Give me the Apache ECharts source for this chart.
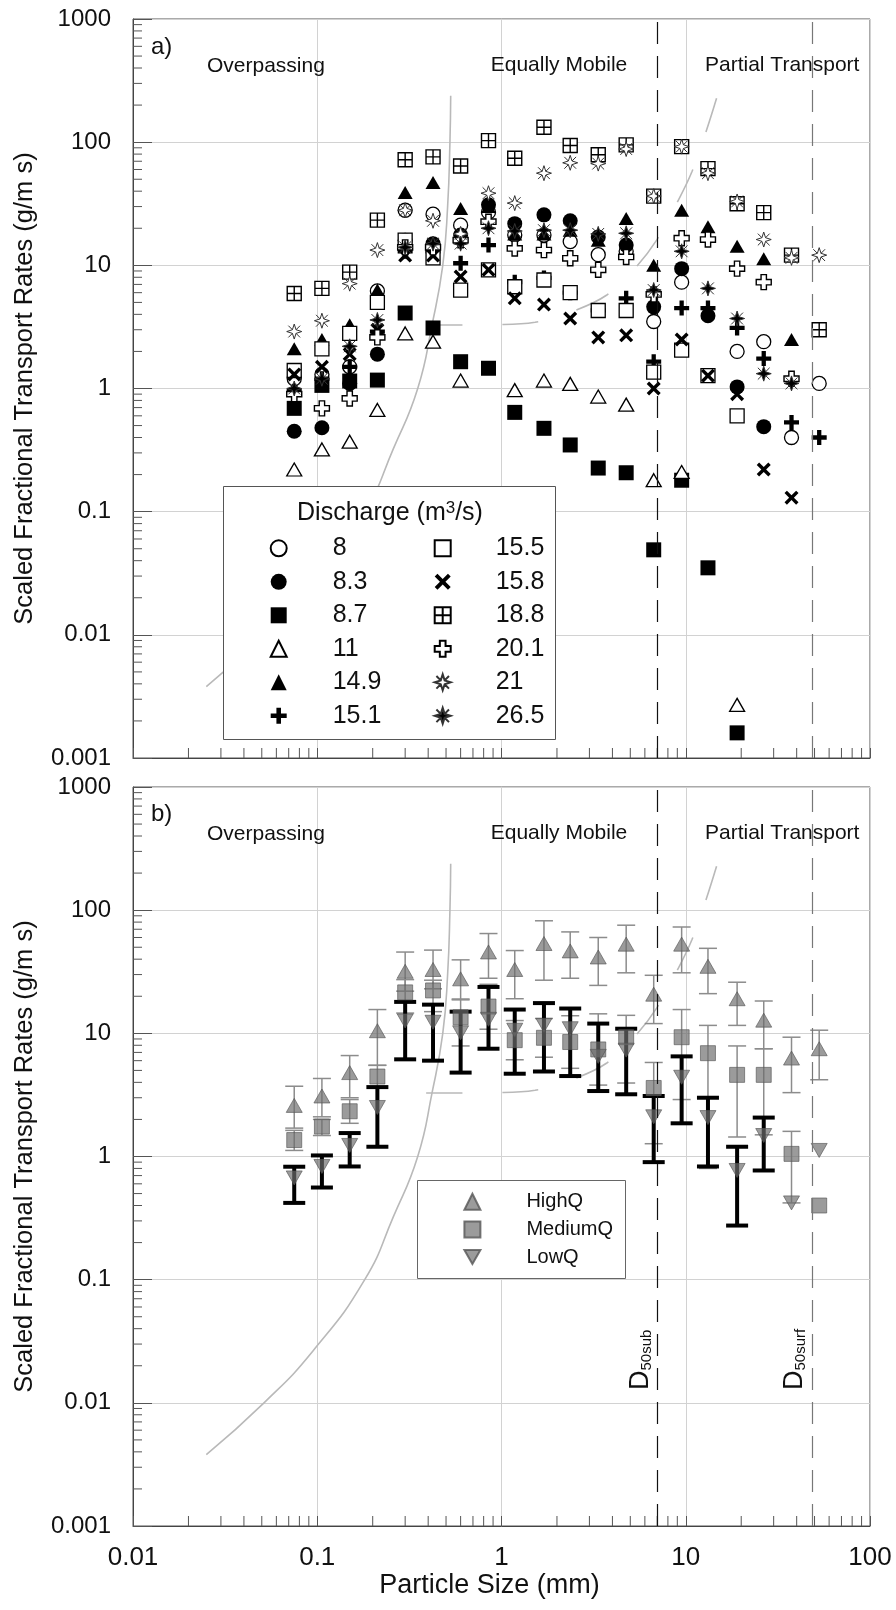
<!DOCTYPE html>
<html><head><meta charset="utf-8">
<script src="https://cdn.jsdelivr.net/npm/echarts@6/dist/echarts.min.js"></script>
<style>html,body{margin:0;padding:0;background:#fff}#c{width:896px;height:1610px}</style>
</head><body><div id="c"></div>
<script>
// ---------- data ----------
const sizes = [0.075, 0.106, 0.15, 0.212, 0.3, 0.425, 0.6, 0.85, 1.18, 1.7, 2.36, 3.35, 4.75, 6.7, 9.5, 13.2, 19, 26.5, 37.5, 53];

// panel a) discharge series (m3/s)
const q8   = [1.2, 1.3, 1.5, 6.2, 28, 26, 21.2, 27, 17.6, 17.6, 15.6, 12.2, 13, 3.5, 7.3, null, 2.0, 2.4, 0.4, 1.1];
const q83  = [0.45, 0.48, 1.1, 1.9, 16, 15, 17.6, 31, 21.8, 25.7, 23, 17, 14.6, 4.6, 9.4, 3.9, 1.03, 0.49, null, null];
const q87  = [0.69, 1.06, 1.15, 1.17, 4.1, 3.1, 1.65, 1.46, 0.64, 0.475, 0.348, 0.226, 0.207, 0.049, 0.18, 0.035, 0.0016, null, null, null];
const q11  = [0.22, 0.32, 0.37, 0.67, 2.8, 2.4, 1.16, null, 0.97, 1.16, 1.09, 0.86, 0.74, 0.18, 0.21, null, 0.0027, null, null, null];
const q149 = [2.1, 2.5, 3.3, 6.3, 39, 47, 29, 30, 18, 18, 19.3, 16, 24, 10, 28, 20.6, 14.3, 11.3, 2.5, null];
const q151 = [0.95, 1.2, 1.5, 2.9, 13, 13, 10.4, 14.6, 7.3, 7.9, 6, 4.3, 5.4, 1.65, 4.5, 4.5, 3.1, 1.75, 0.53, 0.40];
const q155 = [1.4, 2.1, 2.8, 5.0, 16, 11.5, 6.3, 9.2, 6.7, 7.6, 6, 4.3, 4.3, 1.36, 2.05, 1.27, 0.6, null, null, null];
const q158 = [1.3, 1.5, 1.9, 3.0, 12, 12, 8.1, 9.2, 5.4, 4.8, 3.7, 2.6, 2.7, 1.0, 2.5, 1.27, 0.9, 0.22, 0.13, null];
const q188 = [5.9, 6.5, 8.8, 23.3, 72, 76, 64, 103, 74, 132, 94, 79, 95, 36.5, 92, 61, 31.6, 26.8, 12.1, 3.0];
const q201 = [0.9, 0.69, 0.83, 2.6, 14, 14, 16, 22.6, 13.7, 13.3, 11.4, 9.2, 11.7, 5.8, 16.6, 16.2, 9.4, 7.3, 1.2, null];
const q21  = [2.9, 3.55, 7.1, 13.3, 28, 23, 18, 38.5, 32, 56, 68, 67, 88, 36.5, 92, 56, 33, 16.2, 11.5, 12.1];
const q265 = [1.0, 1.2, 2.2, 3.6, 14, 15, 15, 20, 19, 19.3, 19.3, 18, 18.2, 6.3, 13, 6.5, 3.7, 1.32, 1.1, null];

// panel b) grouped discharges with ranges
const highQ   = [2.6, 3.1, 4.8, 10.5, 31.9, 33, 27.7, 45.8, 33, 53.6, 46.7, 41.7, 53, 20.8, 53, 35, 19.1, 12.8, 6.3, 7.5];
const highQLo = [1.7, 2.1, 3.0, 5.5, 22, 23, 19, 28, 19.1, 27, 28, 24.5, 31, 12, 31, 21, 11.6, 7.5, 3.3, 4.2];
const highQHi = [3.72, 4.3, 6.6, 15.6, 45.7, 47.4, 39.5, 64.6, 47, 82, 66.6, 60, 75.5, 29.6, 73, 49, 26, 18.3, 9.3, 10.6];
const medQ    = [1.36, 1.75, 2.33, 4.46, 21.5, 22.3, 13.5, 16.5, 8.8, 9.2, 8.5, 7.4, 9.3, 3.6, 9.3, 6.9, 4.6, 4.6, 1.05, 0.4];
const medQLo  = [1.12, 1.48, 1.86, 3.6, 14.6, 15, 7.9, 10.8, 6.1, 6.4, 5.2, 3.8, 3.95, 1.27, 2.9, 0.8, 1.44, 1.5, 0.42, null];
const medQHi  = [1.63, 2.0, 2.9, 5.5, 27.3, 27, 18.7, 25, 12.7, 13.2, 13.9, 14.4, 14, 5.8, 15.6, 11.6, 7.9, 7.5, 1.6, null];
const lowQ    = [0.67, 0.83, 1.23, 2.5, 12.6, 12.3, 10.1, 13, 10.6, 11.6, 10.9, 6.5, 7.3, 2.1, 4.4, 2.07, 0.77, 1.48, 0.42, 1.12];
const lowQLo  = [0.42, 0.56, 0.83, 1.2, 6.15, 6.0, 4.8, 7.5, 4.7, 4.9, 4.5, 3.4, 3.2, 0.9, 1.86, 0.83, 0.275, 0.77, null, null];
const lowQHi  = [0.826, 1.02, 1.55, 3.66, 18, 17.1, 15, 23.8, 15.6, 17.6, 15.9, 12, 10.9, 3.1, 6.5, 3.0, 1.2, 2.07, null, null];

// reference curves
const curveAx = [0.025, 0.0514, 0.095, 0.181, 0.259, 0.351, 0.42, 0.48, 0.51, 0.525, 0.53];
const curveAy = [0.0038, 0.01, 0.0265, 0.1, 0.325, 1, 3.3, 10, 30, 100, 238];
const curveBx = [0.39, 0.57, 0.94, 1.52, 2.4, 3.73, 5.3, 6.95, 8.93, 10.8, 12.8, 14.7];
const curveBy = [3.28, 3.28, 3.3, 3.45, 4.2, 5.74, 9.46, 16, 31.9, 57.5, 118, 227];

const d50sub = 7;
const d50surf = 48.5;

const yTickLabels = ['0.001', '0.01', '0.1', '1', '10', '100', '1000'];
const xTickLabels = ['0.01', '0.1', '1', '10', '100'];

// ---------- helpers ----------
const FONT = '"Liberation Sans", Arial, sans-serif';
function pairs(xs, ys) { const o = []; xs.forEach((x, i) => { if (ys[i] != null) o.push([x, ys[i]]); }); return o; }
function triples(xs, lo, hi) { const o = []; xs.forEach((x, i) => { if (lo[i] != null && hi[i] != null) o.push([x, lo[i], hi[i]]); }); return o; }
const yMinor = []; for (let e = -3; e < 3; e++) for (let m = 2; m <= 9; m++) yMinor.push(m * Math.pow(10, e));
const xMinor = []; for (let e = -2; e < 2; e++) for (let m = 2; m <= 9; m++) xMinor.push(m * Math.pow(10, e));

const SYM_PLUS = 'path://M5,0H9V5H14V9H9V14H5V9H0V5H5Z';
const SYM_X = 'path://M0,2.4L2.4,0L7,4.6L11.6,0L14,2.4L9.4,7L14,11.6L11.6,14L7,9.4L2.4,14L0,11.6L4.6,7Z';
const SYM_BOX = 'path://M0,0H14V14H0Z M7,0V14 M0,7H14';
const SYM_HPLUS = 'path://M4.5,0H9.5V4.5H14V9.5H9.5V14H4.5V9.5H0V4.5H4.5Z';
const SYM_STAR = 'path://M7,0L8.7,5.3L14,7L8.7,8.7L7,14L5.3,8.7L0,7L5.3,5.3Z M1.5,1.5L5.3,5.3 M12.5,1.5L8.7,5.3 M1.5,12.5L5.3,8.7 M12.5,12.5L8.7,8.7';
const SYM_DOWN = 'path://M0,0L16,0L8,14Z';

const topDefs = [
  { name: '8', d: q8, s: 'circle', z: 14, f: '#fff', b: '#000', w: 1.3 },
  { name: '8.3', d: q83, s: 'circle', z: 15, f: '#000', b: '#000', w: 0 },
  { name: '8.7', d: q87, s: 'rect', z: 15, f: '#000', b: '#000', w: 0 },
  { name: '11', d: q11, s: 'triangle', z: [15, 13], f: '#fff', b: '#000', w: 1.3 },
  { name: '14.9', d: q149, s: 'triangle', z: [15, 13], f: '#000', b: '#000', w: 0 },
  { name: '15.1', d: q151, s: SYM_PLUS, z: 15, f: '#000', b: '#000', w: 0 },
  { name: '15.5', d: q155, s: 'rect', z: 14, f: '#fff', b: '#000', w: 1.3 },
  { name: '15.8', d: q158, s: SYM_X, z: 14, f: '#000', b: '#000', w: 0 },
  { name: '18.8', d: q188, s: SYM_BOX, z: 14, f: '#fff', b: '#000', w: 1.4 },
  { name: '20.1', d: q201, s: SYM_HPLUS, z: 15, f: '#fff', b: '#000', w: 1.4 },
  { name: '21', d: q21, s: SYM_STAR, z: 15, f: '#fff', b: '#333', w: 1 },
  { name: '26.5', d: q265, s: SYM_STAR, z: 15, f: '#000', b: '#333', w: 1 }
];

const GRID = [
  { left: 133, top: 19, width: 737, height: 739 },
  { left: 133, top: 787, width: 737, height: 739 }
];

function xAxisCfg(i) {
  const c = {
    gridIndex: i, type: 'log', logBase: 10, min: 0.01, max: 100,
    axisLine: { show: true, lineStyle: { color: '#444', width: 1 } },
    axisTick: { show: true, inside: true, length: 10, lineStyle: { color: '#555' } },
    splitLine: { show: true, lineStyle: { color: '#d2d2d2', width: 1 } },
    axisLabel: { show: false }
  };
  if (i === 1) {
    c.axisLabel = { show: true, margin: 19, fontSize: 26, fontFamily: FONT, color: '#111',
      showMinLabel: true, showMaxLabel: true,
      formatter: v => xTickLabels[Math.round(Math.log10(v)) + 2] };
    c.name = 'Particle Size (mm)';
    c.nameLocation = 'middle';
    c.nameGap = 45;
    c.nameTextStyle = { fontSize: 27, fontFamily: FONT, color: '#111', padding: [0, 24, 0, 0] };
  }
  return c;
}
function yAxisCfg(i) {
  return {
    gridIndex: i, type: 'log', logBase: 10, min: 0.001, max: 1000,
    axisLine: { show: true, lineStyle: { color: '#444', width: 1 } },
    axisTick: { show: true, inside: true, length: 19, lineStyle: { color: '#555' } },
    splitLine: { show: true, lineStyle: { color: '#d2d2d2', width: 1 } },
    axisLabel: { margin: 22, fontSize: 24, fontFamily: FONT, color: '#111',
      showMinLabel: true, showMaxLabel: true,
      formatter: v => yTickLabels[Math.round(Math.log10(v)) + 3] },
    name: 'Scaled Fractional Transport Rates (g/m s)',
    nameLocation: 'middle', nameGap: 95,
    nameTextStyle: { fontSize: 25.5, fontFamily: FONT, color: '#111' }
  };
}

function tickSeries(i) {
  return [
    { type: 'custom', xAxisIndex: i, yAxisIndex: i, silent: true, z: 3, clip: false,
      data: yMinor.map(v => [0.01, v]),
      renderItem: (p, api) => { const pt = api.coord([0.01, api.value(1)]);
        return { type: 'line', shape: { x1: pt[0], y1: pt[1], x2: pt[0] + 9, y2: pt[1] }, style: { stroke: '#555', lineWidth: 1 } }; } },
    { type: 'custom', xAxisIndex: i, yAxisIndex: i, silent: true, z: 3, clip: false,
      data: xMinor.map(v => [v, 0.001]),
      renderItem: (p, api) => { const pt = api.coord([api.value(0), 0.001]);
        return { type: 'line', shape: { x1: pt[0], y1: pt[1], x2: pt[0], y2: pt[1] - 10 }, style: { stroke: '#555', lineWidth: 1 } }; } }
  ];
}

function curveSeries(i) {
  return [
    { type: 'line', xAxisIndex: i, yAxisIndex: i, silent: true, z: 1, showSymbol: false, symbol: 'none',
      smooth: 0.5, data: pairs(curveAx, curveAy),
      lineStyle: { color: '#b9b9b9', width: 1.6 },
      markLine: { silent: true, symbol: 'none', label: { show: false }, animation: false,
        data: [
          { xAxis: d50sub, lineStyle: { color: '#111', width: 1.2, type: [22, 12] } },
          { xAxis: d50surf, lineStyle: { color: '#777', width: 1.2, type: [22, 12] } }
        ] } },
    { type: 'line', xAxisIndex: i, yAxisIndex: i, silent: true, z: 1, showSymbol: false, symbol: 'none',
      smooth: 0.4, data: pairs(curveBx, curveBy),
      lineStyle: { color: '#b9b9b9', width: 1.6, type: [36, 40] } }
  ];
}

function errSeries(name, lo, hi, color, lw, cap) {
  return { type: 'custom', name: name, xAxisIndex: 1, yAxisIndex: 1, silent: true, z: 2,
    data: triples(sizes, lo, hi), encode: { x: 0, y: [1, 2] },
    renderItem: (p, api) => {
      const x = api.value(0);
      const a = api.coord([x, api.value(1)]), b = api.coord([x, api.value(2)]);
      const st = { stroke: color, lineWidth: lw };
      return { type: 'group', children: [
        { type: 'line', shape: { x1: a[0], y1: a[1], x2: b[0], y2: b[1] }, style: st },
        { type: 'line', shape: { x1: a[0] - cap, y1: a[1], x2: a[0] + cap, y2: a[1] }, style: st },
        { type: 'line', shape: { x1: b[0] - cap, y1: b[1], x2: b[0] + cap, y2: b[1] }, style: st }
      ] };
    } };
}

const series = [];
series.push(...curveSeries(0), ...curveSeries(1), ...tickSeries(0), ...tickSeries(1));
topDefs.forEach(t => series.push({
  type: 'scatter', name: t.name, xAxisIndex: 0, yAxisIndex: 0, z: 4,
  data: pairs(sizes, t.d), symbol: t.s, symbolSize: t.z,
  itemStyle: { color: t.f, borderColor: t.b, borderWidth: t.w, opacity: 1 }
}));
const gFill = 'rgba(108,108,108,0.85)';
series.push(errSeries('eHigh', highQLo, highQHi, '#8c8c8c', 1.5, 9));
series.push({ type: 'scatter', name: 'HighQ', xAxisIndex: 1, yAxisIndex: 1, z: 4, data: pairs(sizes, highQ),
  symbol: 'triangle', symbolSize: [16, 14], itemStyle: { color: gFill, borderColor: '#555', borderWidth: 0.8 } });
series.push(errSeries('eMed', medQLo, medQHi, '#8c8c8c', 1.5, 9));
series.push({ type: 'scatter', name: 'MediumQ', xAxisIndex: 1, yAxisIndex: 1, z: 4, data: pairs(sizes, medQ),
  symbol: 'rect', symbolSize: 15, itemStyle: { color: gFill, borderColor: '#555', borderWidth: 0.8 } });
series.push(errSeries('eLow', lowQLo, lowQHi, '#000', 4, 11));
series.push({ type: 'scatter', name: 'LowQ', xAxisIndex: 1, yAxisIndex: 1, z: 4, data: pairs(sizes, lowQ),
  symbol: SYM_DOWN, symbolSize: [16, 14], itemStyle: { color: gFill, borderColor: '#555', borderWidth: 0.8 } });

const legBase = { orient: 'vertical', itemWidth: 16, itemHeight: 16, padding: 0, selectedMode: false, z: 20 };
const legends = [
  Object.assign({}, legBase, { left: 269.7, top: 535.8, itemGap: 8.5, data: topDefs.slice(0, 6).map(t => t.name),
    textStyle: { fontSize: 25, lineHeight: 25, fontFamily: FONT, color: '#111', padding: [0, 0, 0, 41] } }),
  Object.assign({}, legBase, { left: 433.7, top: 535.8, itemGap: 8.5, data: topDefs.slice(6).map(t => t.name),
    textStyle: { fontSize: 25, lineHeight: 25, fontFamily: FONT, color: '#111', padding: [0, 0, 0, 40] } }),
  Object.assign({}, legBase, { left: 463.4, top: 1191.7, itemGap: 7.7, data: ['HighQ', 'MediumQ', 'LowQ'],
    textStyle: { fontSize: 20, lineHeight: 20, fontFamily: FONT, color: '#111', padding: [0, 0, 0, 41] } })
];

function txt(x, y, text, size, extra) {
  return Object.assign({ type: 'text', x: x, y: y, z: 20,
    style: { text: text, font: size + 'px ' + FONT, fill: '#111', align: 'left', verticalAlign: 'middle' } }, extra || {});
}
const graphics = [
  txt(151, 47, 'a)', 24), txt(151, 814, 'b)', 24),
  txt(207, 66, 'Overpassing', 21), txt(490.7, 65, 'Equally Mobile', 21), txt(705, 65, 'Partial Transport', 21),
  txt(207, 834, 'Overpassing', 21), txt(490.7, 833, 'Equally Mobile', 21), txt(705, 833, 'Partial Transport', 21),
  { type: 'rect', z: 15, shape: { x: 223.5, y: 486.5, width: 332, height: 253 }, style: { fill: '#fff', stroke: '#555', lineWidth: 1 } },
  { type: 'rect', z: 15, shape: { x: 417.5, y: 1180.5, width: 208, height: 98 }, style: { fill: '#fff', stroke: '#666', lineWidth: 1 } },
  { type: 'text', x: 390, y: 513, z: 20, style: { text: 'Discharge (m{sup|3}/s)', font: '25px ' + FONT, fill: '#111', align: 'center', verticalAlign: 'middle',
      rich: { sup: { fontSize: 17, fontFamily: FONT, fill: '#111', verticalAlign: 'top', padding: [0, 0, 10, 0] } } } },
  { type: 'text', x: 641, y: 1390, rotation: Math.PI / 2, z: 20, style: { text: '{d|D}{s|50sub}', align: 'left', verticalAlign: 'middle',
      rich: { d: { fontSize: 27, fontFamily: FONT, fill: '#111', lineHeight: 27, verticalAlign: 'bottom' },
              s: { fontSize: 15, fontFamily: FONT, fill: '#111', lineHeight: 15, verticalAlign: 'bottom', padding: [12, 0, 0, 0] } } } },
  { type: 'text', x: 795, y: 1390, rotation: Math.PI / 2, z: 20, style: { text: '{d|D}{s|50surf}', align: 'left', verticalAlign: 'middle',
      rich: { d: { fontSize: 27, fontFamily: FONT, fill: '#111', lineHeight: 27, verticalAlign: 'bottom' },
              s: { fontSize: 15, fontFamily: FONT, fill: '#111', lineHeight: 15, verticalAlign: 'bottom', padding: [12, 0, 0, 0] } } } }
];

const chart = echarts.init(document.getElementById('c'), null, { renderer: 'canvas', width: 896, height: 1610 });
chart.setOption({
  animation: false,
  backgroundColor: '#fff',
  grid: GRID.map(g => Object.assign({ show: true, borderColor: '#555', borderWidth: 1, containLabel: false }, g)),
  xAxis: [xAxisCfg(0), xAxisCfg(1)],
  yAxis: [yAxisCfg(0), yAxisCfg(1)],
  legend: legends,
  graphic: { elements: graphics },
  series: series
});
</script></body></html>
